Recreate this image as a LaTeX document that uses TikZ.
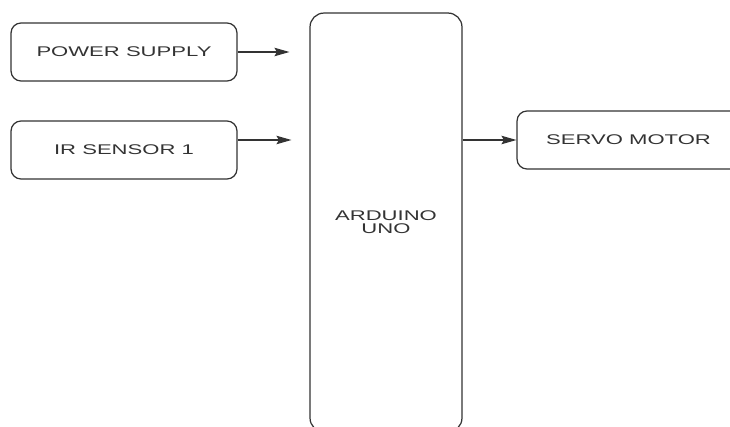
\documentclass[tikz,border=0pt]{standalone}
\usepackage{fontspec}
\newfontfamily\blockfont[FakeStretch=1.57]{Liberation Sans}
\usepackage{xcolor}
\usepackage{tikz}
\usetikzlibrary{arrows.meta,positioning,calc}
\definecolor{linegray}{HTML}{333333}
\tikzset{
  blockbox/.style={draw=linegray,line width=0.7pt,rounded corners=0.2cm,align=center,
    text=linegray,font=\blockfont\fontsize{8}{7.4}\selectfont,inner sep=0pt},
  flowarrow/.style={-{Stealth[length=3mm,width=1.7mm,inset=0.5mm]},draw=linegray,line width=0.6pt}
}
\begin{document}
\begin{tikzpicture}[x=0.02cm,y=-0.02cm]
  \useasboundingbox (0,0) rectangle (730,426);
  \clip (0,0) rectangle (730,426);
  % input blocks
  \node[blockbox,minimum width=4.52cm,minimum height=1.16cm] (power) at (124,52) {POWER SUPPLY};
  \node[blockbox,minimum width=4.52cm,minimum height=1.16cm] (irsensor) at (124,150) {IR SENSOR 1};
  % controller
  \node[blockbox,rounded corners=0.28cm,minimum width=3.04cm,minimum height=8.38cm] (arduino) at (386,222.5) {ARDUINO\\UNO};
  % output
  \node[blockbox,minimum width=4.46cm,minimum height=1.16cm] (servo) at (628.5,140) {SERVO MOTOR};
  \draw[flowarrow,shorten >=0.4cm] (power.east) -- (power.east -| arduino.west);
  \draw[flowarrow,shorten >=0.36cm] ([yshift=0.2cm]irsensor.east) -- ([yshift=0.2cm]irsensor.east -| arduino.west);
  \draw[flowarrow] (arduino.east |- servo.west) -- (servo.west);
\end{tikzpicture}
\end{document}
